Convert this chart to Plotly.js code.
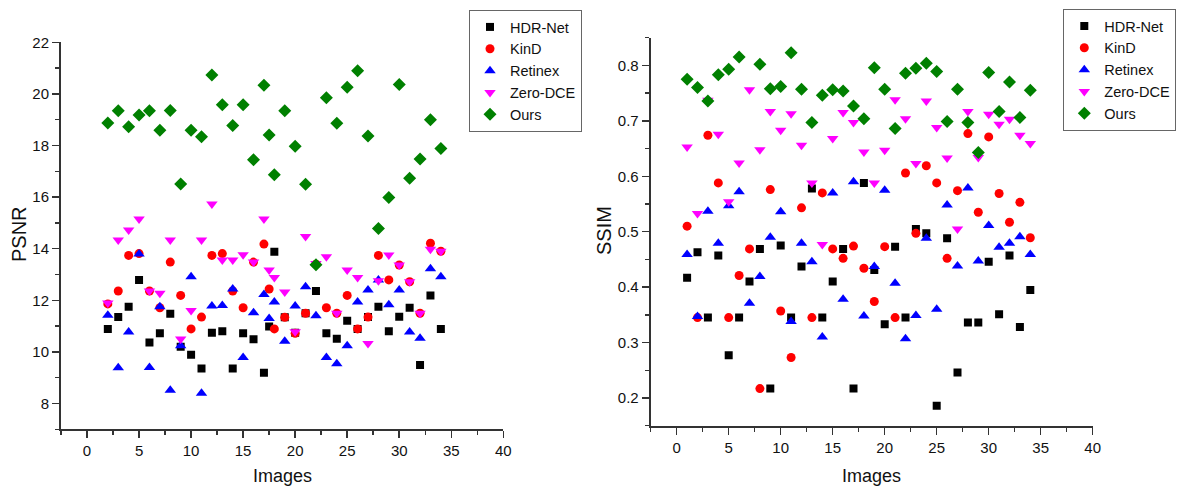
<!DOCTYPE html>
<html>
<head>
<meta charset="utf-8">
<script src="https://cdn.plot.ly/plotly-3.0.1.min.js"></script>
<style>
html,body{margin:0;padding:0;background:#fff;}
#chart{width:1185px;height:490px;}
</style>
</head>
<body>
<div id="chart"></div>
<script>
// ---------- PSNR (left panel) ----------
const psnrX = [2,3,4,5,6,7,8,9,10,11,12,13,14,15,16,17,17.5,18,19,20,21,22,23,24,25,26,27,28,29,30,31,32,33,34];
const psnrHDR = [10.89,11.35,11.75,12.79,10.36,10.72,11.48,10.2,9.89,9.36,10.74,10.8,9.36,10.72,10.49,9.19,10.98,13.88,11.34,10.74,11.5,12.36,10.72,10.51,11.21,10.89,11.35,11.75,10.8,11.36,11.71,9.49,12.19,10.89];
const psnrKinD = [11.86,12.36,13.74,13.81,12.36,11.71,13.48,12.19,10.89,11.35,13.74,13.81,12.36,11.71,13.48,14.18,12.44,10.89,11.34,10.72,11.5,13.4,11.71,11.5,12.19,10.89,11.35,13.74,12.79,13.37,12.72,11.5,14.21,13.9];
const psnrRetinex = [11.42,9.39,10.77,13.79,9.4,11.75,8.51,10.24,12.91,8.4,11.78,11.8,12.44,9.78,11.52,12.22,11.29,11.93,10.41,11.78,12.53,11.4,9.78,9.54,10.24,11.93,12.4,12.79,11.83,12.4,10.77,10.53,13.22,12.91];
const psnrZero = [11.9,14.34,14.72,15.15,12.36,12.27,14.34,10.5,11.6,14.34,15.73,13.56,13.56,13.77,13.48,15.15,13.17,12.88,12.32,10.78,14.47,13.43,13.69,11.5,13.17,12.88,10.33,12.76,13.76,13.37,12.72,11.5,13.98,13.9];
const psnrOurs = [18.87,19.35,18.73,19.18,19.35,18.59,19.36,16.51,18.59,18.34,20.73,19.58,18.78,19.58,17.45,20.34,18.41,16.87,19.35,17.97,16.5,13.38,19.85,18.86,20.26,20.9,18.37,14.78,15.98,20.36,16.73,17.48,19.0,17.88];

// ---------- SSIM (right panel) ----------
const ssimX = [1,2,3,4,5,6,7,8,9,10,11,12,13,14,15,16,17,18,19,20,21,22,23,24,25,26,27,28,29,30,31,32,33,34];
const ssimOursX = [1,2,3,4,5,6,8,9,10,11,12,13,14,15,16,17,18,19,20,21,22,23,24,25,26,27,28,29,30,31,32,33,34];
const ssimHDR = [0.417,0.463,0.345,0.457,0.277,0.345,0.410,0.469,0.217,0.475,0.345,0.437,0.578,0.345,0.410,0.469,0.217,0.588,0.431,0.333,0.473,0.345,0.505,0.497,0.186,0.488,0.246,0.336,0.336,0.446,0.351,0.457,0.328,0.395];
const ssimKinD = [0.510,0.345,0.674,0.588,0.345,0.421,0.469,0.217,0.576,0.357,0.273,0.543,0.345,0.570,0.469,0.452,0.474,0.434,0.374,0.473,0.345,0.606,0.497,0.619,0.588,0.452,0.574,0.677,0.535,0.671,0.569,0.517,0.553,0.489];
const ssimRetinex = [0.459,0.347,0.537,0.479,0.547,0.572,0.371,0.419,0.490,0.536,0.338,0.479,0.446,0.310,0.570,0.378,0.590,0.348,0.437,0.575,0.407,0.307,0.349,0.488,0.360,0.548,0.438,0.579,0.447,0.511,0.472,0.479,0.491,0.459];
const ssimZero = [0.653,0.533,0.737,0.676,0.554,0.624,0.756,0.648,0.717,0.683,0.713,0.656,0.588,0.477,0.668,0.715,0.697,0.644,0.588,0.647,0.738,0.704,0.623,0.736,0.688,0.633,0.505,0.717,0.634,0.712,0.694,0.703,0.674,0.659];
const ssimOurs = [0.775,0.760,0.736,0.783,0.793,0.815,0.802,0.758,0.762,0.823,0.757,0.697,0.746,0.756,0.754,0.727,0.704,0.796,0.757,0.686,0.786,0.795,0.804,0.789,0.699,0.757,0.697,0.643,0.787,0.717,0.770,0.706,0.755];

const seriesNames = ['HDR-Net','KinD','Retinex','Zero-DCE','Ours'];
const seriesColors = ['#000000','#ff0000','#0000ff','#ff00ff','#008000'];
const seriesSymbols = ['square','circle','triangle-up','triangle-down','diamond'];
const seriesSizes = [8,9,10,10,10];

const W = 1185, H = 490;
const FONT = 'Arial, "Liberation Sans", sans-serif';

function mk(i, x, y, xa, ya, leg){
  return {
    type:'scatter', mode:'markers', x:x, y:y, name:seriesNames[i],
    xaxis:xa, yaxis:ya, legend:leg,
    marker:{color:seriesColors[i], symbol:seriesSymbols[i], size:seriesSizes[i], line:{width:0}},
    hoverinfo:'x+y'
  };
}

const traces = [
  mk(0, psnrX, psnrHDR, 'x', 'y', 'legend'),
  mk(1, psnrX, psnrKinD, 'x', 'y', 'legend'),
  mk(2, psnrX, psnrRetinex, 'x', 'y', 'legend'),
  mk(3, psnrX, psnrZero, 'x', 'y', 'legend'),
  mk(4, psnrX, psnrOurs, 'x', 'y', 'legend'),
  mk(0, ssimX, ssimHDR, 'x2', 'y2', 'legend2'),
  mk(1, ssimX, ssimKinD, 'x2', 'y2', 'legend2'),
  mk(2, ssimX, ssimRetinex, 'x2', 'y2', 'legend2'),
  mk(3, ssimX, ssimZero, 'x2', 'y2', 'legend2'),
  mk(4, ssimOursX, ssimOurs, 'x2', 'y2', 'legend2')
];

const axisCommon = {
  showline:true, linecolor:'#333', linewidth:2,
  ticks:'outside', ticklen:7, tickwidth:1.5, tickcolor:'#333',
  showgrid:false, zeroline:false, mirror:false,
  tickfont:{family:FONT, size:15, color:'#111'}
};

const legendCommon = {
  xanchor:'left', yanchor:'top',
  bgcolor:'#fff', bordercolor:'#666', borderwidth:1,
  font:{family:FONT, size:14.5, color:'#111'}, tracegroupgap:0
};

const layout = {
  width:W, height:H,
  margin:{l:0,r:0,t:0,b:0,autoexpand:false},
  paper_bgcolor:'#fff', plot_bgcolor:'#fff',
  font:{family:FONT, color:'#111'},
  xaxis:Object.assign({}, axisCommon, {
    domain:[61/W, 503.3/W], range:[-2.5,40], tick0:0, dtick:5,
    minor:{dtick:2.5, ticklen:4, tickwidth:1.5, tickcolor:'#333', ticks:'outside'}, anchor:'y'
  }),
  yaxis:Object.assign({}, axisCommon, {
    domain:[1-429.3/H, 1-42.3/H], range:[7,22], tick0:0, dtick:2,
    minor:{dtick:1, ticklen:4, tickwidth:1.5, tickcolor:'#333', ticks:'outside'}, anchor:'x'
  }),
  xaxis2:Object.assign({}, axisCommon, {
    domain:[650.7/W, 1092.7/W], range:[-2.5,40], tick0:0, dtick:5,
    minor:{dtick:2.5, ticklen:4, tickwidth:1.5, tickcolor:'#333', ticks:'outside'}, anchor:'y2'
  }),
  yaxis2:Object.assign({}, axisCommon, {
    domain:[1-425.7/H, 1-37.7/H], range:[0.15,0.85], tick0:0, dtick:0.1,
    minor:{dtick:0.05, ticklen:4, tickwidth:1.5, tickcolor:'#333', ticks:'outside'}, anchor:'x2'
  }),
  legend:Object.assign({}, legendCommon, {x:469/W, y:1-10/H}),
  legend2:Object.assign({}, legendCommon, {x:1063.3/W, y:1-9/H}),
  annotations:[
    {text:'Images', xref:'paper', yref:'paper', x:282/W, y:1-476/H, xanchor:'center', yanchor:'middle', showarrow:false, font:{family:FONT, size:18, color:'#111'}},
    {text:'Images', xref:'paper', yref:'paper', x:871.7/W, y:1-476/H, xanchor:'center', yanchor:'middle', showarrow:false, font:{family:FONT, size:18, color:'#111'}},
    {text:'PSNR', xref:'paper', yref:'paper', x:19/W, y:1-234/H, xanchor:'center', yanchor:'middle', textangle:-90, showarrow:false, font:{family:FONT, size:20, color:'#111'}},
    {text:'SSIM', xref:'paper', yref:'paper', x:604/W, y:1-231/H, xanchor:'center', yanchor:'middle', textangle:-90, showarrow:false, font:{family:FONT, size:20, color:'#111'}}
  ],
  showlegend:true
};

Plotly.newPlot('chart', traces, layout, {displayModeBar:false, staticPlot:true});
</script>
</body>
</html>
